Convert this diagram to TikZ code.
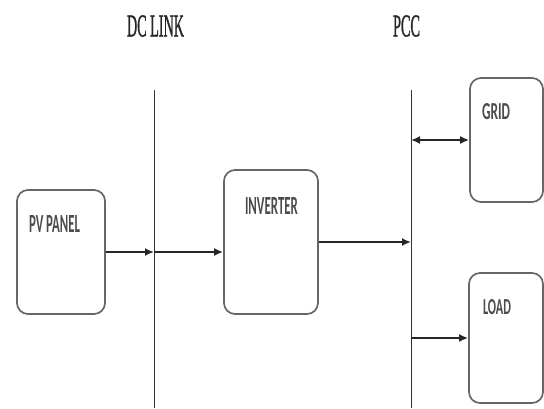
\documentclass[tikz,border=0pt]{standalone}
\usepackage{fontspec}
\setmainfont{Liberation Serif}
\newfontfamily\titlefont[FakeBold=1.5]{Liberation Serif}
\newfontfamily\boxfont{Carlito}
\usetikzlibrary{arrows.meta}
\newcommand\fitbox[3]{\resizebox{#1pt}{#2pt}{#3}}
\begin{document}
\begin{tikzpicture}[x=1pt,y=-1pt,
  blk/.style={draw=black!60, line width=1.7pt, rounded corners=11pt, fill=white, inner sep=0pt},
  busline/.style={draw=black!80, line width=1pt},
  flow/.style={draw=black!85, line width=1.8pt, -{Latex[length=9pt,width=8pt]}},
  biflow/.style={draw=black!85, line width=1.8pt, {Latex[length=9pt,width=8pt]}-{Latex[length=9pt,width=8pt]}},
  btxt/.style={text=black!70, inner sep=0pt, font=\boxfont\bfseries},
  ttl/.style={text=black!85, inner sep=0pt, font=\titlefont}]
\useasboundingbox[fill=white] (0,0) rectangle (544,408);

% bus lines
\coordinate (dctop) at (154,90);
\coordinate (dcbot) at (154,408);
\coordinate (pcctop) at (411,90);
\coordinate (pccbot) at (411,408);
\draw[busline] (dctop) -- (dcbot);
\draw[busline] (pcctop) -- (pccbot);

% titles
\node[ttl] (dct) at (155.5,26) {\fitbox{57}{21}{DC LINK}};
\node[ttl] (pcct) at (406.5,26) {\fitbox{27}{21}{PCC}};

% blocks
\node[blk, minimum width=88pt, minimum height=124pt] (pv) at (61,252) {};
\node[blk, minimum width=94pt, minimum height=144pt] (inv) at (271,242) {};
\node[blk, minimum width=73pt, minimum height=124pt] (grid) at (506.5,140) {};
\node[blk, minimum width=74pt, minimum height=130pt] (load) at (506,338) {};

% block texts
\node[btxt] (pvt) at (54.5,224) {\fitbox{51}{17}{PV PANEL}};
\node[btxt] (invt) at (271.5,206) {\fitbox{53}{17}{INVERTER}};
\node[btxt] (gridt) at (496,111.5) {\fitbox{28}{16}{GRID}};
\node[btxt] (loadt) at (497,307) {\fitbox{28}{15}{LOAD}};

% connectors
\coordinate (dcin) at (154,252);
\coordinate (pccin) at (411,242);
\coordinate (pccg) at (411,140);
\coordinate (pccl) at (411,338);
\draw[flow] (pv.east) -- (dcin);
\draw[flow] (dcin) -- (inv.west |- dcin);
\draw[flow] (inv.east) -- (pccin);
\draw[biflow] (pccg) -- (grid.west);
\draw[flow] (pccl) -- (load.west);
\end{tikzpicture}
\end{document}
